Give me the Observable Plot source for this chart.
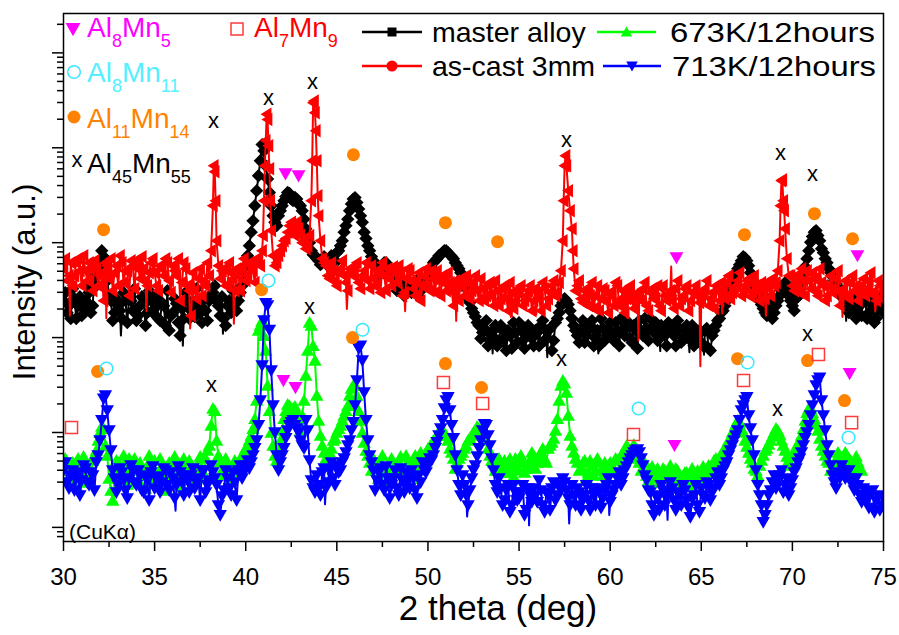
<!DOCTYPE html>
<html>
<head>
<meta charset="utf-8">
<script src="https://cdn.jsdelivr.net/npm/d3@7"></script>
<script src="https://cdn.jsdelivr.net/npm/@observablehq/plot@0.6"></script>
<style>
  html, body { margin: 0; padding: 0; background: #fff; }
  #chart { width: 899px; height: 635px; }
</style>
</head>
<body>
<div id="chart"></div>
<script>
const FONT = "'Liberation Sans', Arial, Helvetica, sans-serif";

// ---- 2-theta sampling of the digitised patterns: main grid 30.0,30.2,... and mid grid 30.1,30.3,... ----
const thetaStart = 30;
const thetaMidStart = 30.1;
const thetaStep = 0.2;

// ---- master alloy (black) ----
const masterAlloy = [
  245,183,159,257,217,170,245,298,217,352,532,713,398,245,183,217,159,245,270,192,151,217,257,183,245,202,159,234,134,119,183,228,105,159,245,192,166,217,144,192,245,298,245,170,159,217,183,223,
  245,352,572,930,1700,3530,7300,9300,4700,2450,
  1640,1920,2450,3060,3300,2770,2880,2450,1770,1190,
  824,730,646,616,679,616,679,785,930,1290,
  1770,2560,2990,2270,1640,1110,824,646,532,483,
  616,532,449,398,352,380,328,362,345,398,
  312,352,449,546,646,730,785,824,748,679,
  572,483,398,257,202,166,134,113,151,93,
  119,82,134,98,119,77,113,144,93,105,
  125,82,113,134,93,119,73,144,183,234,
  245,192,134,105,125,89,119,151,98,82,
  125,105,144,93,119,159,105,134,89,119,
  151,105,125,159,113,93,134,105,144,119,
  82,125,98,134,113,82,105,89,119,77,
  105,134,159,192,245,312,418,532,646,690,
  572,418,312,245,202,170,217,183,245,312,
  380,276,217,257,312,449,679,1010,1290,1190,
  865,679,532,439,370,312,257,217,270,192,
  234,170,245,183,217,159,212,183
];
const masterAlloyMid = [
  298,217,328,159,270,202,352,183,449,616,824,532,276,151,257,
  192,298,144,245,328,170,270,134,312,183,
  276,151,217,312,170,257,144,202,298,159,
  245,328,183,257,151,276,352,217,270,134,
  245,312,192,298,449,730,1290,2450,5070,null,
  6460,3380,1920,1510,2170,2770,3380,2880,3000,2560,
  2170,1400,1000,748,679,587,713,572,730,616,
  824,1050,1510,2170,2880,2650,1920,1290,930,713,
  572,449,532,616,483,418,312,380,276,345,
  298,370,270,328,398,507,616,679,748,824,
  785,713,616,532,439,328,234,183,144,98,
  125,82,105,134,93,119,73,105,144,89,
  119,77,134,98,119,82,151,98,125,93,
  159,217,257,223,159,119,89,151,105,134,
  82,119,159,93,125,105,144,82,119,151,
  98,134,77,119,159,93,125,144,98,119,
  82,134,105,151,89,119,98,134,93,119,
  82,125,73,119,151,183,217,276,362,483,
  587,713,646,483,352,276,223,183,245,159,
  217,276,352,312,245,192,270,380,559,824,
  1160,1340,1050,785,616,483,398,345,276,234,
  183,245,159,217,276,159,245,144,202,270
];
const masterAlloyPeaks = [[40.9, 10800]];
const masterAlloySpikes = [[33.15,105],[36.55,82],[38.75,110],[53.55,68],[54.15,72],[55.35,75],[56.55,62],[59.35,68],[62.75,72],[64.35,70],[65.15,66],[72.95,150]];

// ---- as-cast 3mm (red) ----
const asCast = [
  532,398,616,449,679,352,507,616,312,532,449,245,572,679,483,352,616,507,276,572,646,418,532,352,616,483,312,532,679,398,572,449,245,616,352,170,312,418,276,352,449,
  2450,1050,
  418,532,352,483,312,449,532,398,616,507,679,572,
  2770,19900,1340,
  572,730,930,1110,1510,1340,1640,1190,1050,930,
  2770,23400,1920,679,
  572,418,507,352,532,449,312,483,572,380,449,616,328,418,507,298,449,532,352,483,572,276,418,507,328,398,245,449,352,507,298,398,449,312,380,217,352,418,276,380,312,449,245,328,276,380,217,312,257,352,192,298,245,328,217,276,352,245,298,192,328,257,352,276,380,
  1050,6460,2170,532,
  352,257,312,217,380,276,192,328,245,298,
  217,352,257,183,312,245,276,276,328,217,
  298,257,352,192,276,276,245,328,217,276,
  352,245,298,276,257,328,217,298,352,245,
  312,380,257,328,398,276,352,418,298,352,
  245,312,380,276,352,507,
  4500,1400,449,
  352,449,298,398,507,328,418,276,380,245,352,298,418,217,328,276,380,312,245,352,276,398,298,245,352,312
];
const asCastMid = [
  679,449,352,616,507,730,398,532,646,352,483,616,418,312,572,
  730,380,507,646,328,532,713,398,483,679,
  352,572,449,616,298,507,679,380,532,312,
  483,257,532,398,616,null,null,null,507,352,
  616,418,532,312,679,449,572,380,646,824,
  null,null,null,616,824,1050,1290,1640,1190,1400,
  1000,865,null,null,null,null,616,449,616,398,
  507,646,380,532,449,616,328,507,398,572,
  352,483,616,312,418,559,380,483,298,532,
  398,276,483,352,532,312,418,507,276,380,
  483,312,398,245,352,449,257,380,312,418,
  245,352,276,398,217,328,257,380,202,298,
  352,245,312,192,328,257,380,217,298,398,
  298,null,null,null,null,312,398,234,328,276,
  202,352,257,312,183,276,380,217,312,257,
  352,202,298,245,380,192,328,257,217,352,
  245,312,202,398,257,328,192,298,352,234,
  298,398,257,202,312,380,257,449,298,352,
  483,312,398,270,449,312,380,257,328,418,
  380,null,null,null,449,312,380,532,276,398,
  483,312,532,352,276,449,328,507,298,398,
  257,449,352,298,418,328,483,276,398,257
];
const asCastPeaks = [[38.1,824],[38.25,6460],[38.3,5600],[38.35,2770],[38.5,572],[40.95,1190],[41.05,6460],[41.1,11900],[41.15,22600],[41.25,10500],[41.3,6000],[41.35,2770],[41.5,730],[43.5,1190],[43.65,7300],[43.7,29800],[43.75,31200],[43.85,15100],[43.9,7300],[43.95,3120],[44.1,1050],[57.3,507],[57.45,2770],[57.5,6460],[57.55,8240],[57.7,3530],[57.9,1400],[57.95,824],[69.3,1050],[69.35,2450],[69.45,4600],[69.5,2770],[69.55,2170],[69.7,679]];
const asCastSpikes = [[30.35,170],[32.35,160],[34.55,190],[36.95,125],[39.35,140],[45.55,200],[48.75,190],[51.55,150],[54.55,165],[55.95,175],[60.95,160],[61.55,93],[63.35,560],[64.95,50],[66.15,180],[68.55,170],[72.75,165],[74.55,190]];

// ---- 673K / 12 hours (green), 30.0 .. 73.8 ----
const k673 = [
  3.98,4.83,3.12,4.17,5.32,3.52,4.49,3.27,5.07,6.46,
  10.0,11.0,5.72,2.45,3.98,4.83,3.27,4.17,5.32,2.97,
  3.98,4.83,3.52,4.49,3.12,5.07,3.79,4.38,3.27,4.83,
  3.98,2.97,4.49,5.32,3.52,4.17,3.12,4.83,3.98,5.32,
  7.3,17.9,8.24,4.83,3.52,4.49,3.79,5.07,4.17,5.72,
  6.79,8.24,11.0,21.7,134,105,31.3,10.0,5.72,6.79,
  10.5,17.0,19.2,17.9,16.2,10.5,21.7,73,134,57.3,
  13.4,7.3,5.32,6.16,8.24,10.0,11.9,15.1,19.2,29.1,
  31.3,17.0,10.0,6.46,4.83,5.32,3.98,4.83,3.52,4.49,
  5.32,3.79,4.83,4.17,5.72,3.98,5.07,4.49,6.16,5.07,
  6.79,7.3,8.67,10.0,10.5,9.3,6.79,5.32,4.83,5.72,
  6.79,8.24,9.3,10.5,11.0,10.0,8.24,5.72,4.83,3.98,
  4.49,5.07,3.79,4.49,5.32,3.98,4.83,4.17,5.07,5.72,
  4.83,6.16,5.32,6.79,7.86,10.5,21.7,35.3,26.4,9.3,
  6.16,4.83,4.17,5.07,3.79,4.49,3.98,4.83,3.52,4.17,
  4.83,3.98,5.07,5.72,6.46,6.79,6.16,5.32,4.83,4.17,
  3.52,3.98,3.27,4.17,3.52,3.98,3.27,3.79,4.17,3.52,
  3.12,3.79,2.77,3.44,3.98,3.27,3.79,4.49,3.98,5.32,
  4.83,6.46,7.3,8.67,10.5,13.4,11.0,8.24,6.16,4.83,
  3.98,4.49,5.72,6.79,8.24,10.0,10.5,8.24,6.46,5.07,
  5.72,6.79,8.24,11.0,16.2,17.9,14.0,10.5,7.3,5.72,
  4.83,4.17,5.07,5.72,5.32,5.72,5.07,4.17,4.83,3.98
];
const k673Mid = [
  5.32,3.44,4.83,2.77,3.98,5.59,2.97,4.17,5.72,8.24,null,7.3,3.27,1.92,5.07,
  3.52,5.72,2.83,4.38,5.32,3.12,4.17,2.57,5.72,3.79,
  2.97,5.32,3.61,2.45,4.38,5.59,3.52,2.57,3.98,5.07,
  2.97,4.38,5.59,3.27,6.46,11.9,null,5.72,3.98,5.32,
  3.12,4.38,3.61,5.07,6.16,7.3,9.3,14.0,null,null,
  null,17.0,7.3,5.07,8.24,14.0,19.7,16.2,18.8,13.4,
  15.1,40,null,null,24.5,9.3,6.16,4.83,6.79,8.67,
  11.0,13.4,17.0,24.5,null,24.5,13.4,7.86,5.72,3.98,
  4.83,3.27,5.72,4.17,3.12,4.83,3.61,5.59,3.98,4.83,
  3.27,5.72,4.17,5.32,6.16,7.13,8.24,9.3,11.0,10.0,
  8.24,6.16,4.17,5.32,6.16,7.3,8.67,10.0,11.6,10.5,
  9.10,6.79,5.07,3.98,5.32,3.79,4.38,5.32,3.44,4.83,
  5.72,3.79,4.60,6.16,4.17,5.32,6.79,4.83,7.3,8.67,
  14.0,31.3,null,15.1,7.3,5.32,3.98,4.83,3.27,5.07,
  3.52,5.32,3.98,4.83,3.12,4.38,5.32,3.79,6.16,7.3,
  6.46,7.48,5.72,3.98,4.83,3.12,4.38,3.52,2.97,4.17,
  3.44,4.49,3.12,3.98,2.77,3.79,3.27,4.17,2.57,3.61,
  4.38,3.12,3.98,5.07,4.17,5.72,6.79,8.24,10.0,12.2,
  12.8,10.0,7.13,5.32,4.17,3.52,5.07,6.46,7.48,9.10,
  11.0,9.55,7.3,5.59,4.49,6.46,7.48,9.3,13.4,17.9,
  16.2,12.2,8.67,6.46,5.07,3.98,4.83,6.16,4.83,6.16,
  5.32,4.49,5.59,4.17
];
const k673Peaks = [[32.1,11.6],[38.3,17.0],[40.7,119],[40.9,151],[41.1,73],[43.5,144],[43.7,82],[45.9,31.3],[57.5,33.0]];
const k673Spikes = [[32.75,1.9],[37.15,2.4],[47.55,2.6],[64.55,2.2]];

// ---- 713K / 12 hours (blue) ----
const k713 = [
  3.98,2.97,3.52,2.45,3.79,3.12,4.17,2.77,3.52,4.83,
  8.24,22.7,17.0,6.46,3.27,2.77,3.79,2.45,3.27,3.98,
  2.77,3.52,2.33,3.12,3.79,2.57,3.44,2.97,3.98,2.45,
  3.27,2.77,3.79,2.17,3.12,3.52,2.57,3.27,3.98,2.33,
  3.12,3.79,2.77,1.34,2.45,3.27,2.17,2.97,3.98,3.27,
  4.49,4.17,5.72,8.24,21.7,151,217,45,10.0,3.98,
  5.72,8.67,11.9,13.4,11.0,8.24,6.79,10.5,3.12,2.33,
  2.77,3.79,2.57,3.98,3.27,4.49,3.98,5.32,7.3,10.5,
  19.2,77,57.3,13.4,5.72,3.98,3.12,4.17,2.45,3.27,
  2.77,3.98,2.17,3.12,3.79,2.57,3.27,2.01,2.97,3.98,
  4.49,5.07,6.79,9.3,13.4,21.7,17.0,8.67,3.98,2.17,
  2.77,1.70,3.27,4.49,6.79,10.5,11.9,7.3,3.98,2.33,
  2.57,1.92,2.77,1.70,2.33,2.01,2.77,1.51,2.17,2.57,
  1.84,2.45,1.44,2.17,2.57,1.92,2.77,3.27,2.45,1.70,
  2.17,2.57,1.51,2.17,1.92,2.57,1.70,2.33,2.01,2.77,
  1.84,2.45,3.27,2.77,3.98,4.83,5.72,6.46,6.16,4.49,
  3.12,2.33,1.34,2.01,2.77,1.70,2.33,2.57,1.51,2.17,
  2.77,1.92,1.28,2.17,1.70,2.57,2.01,2.77,2.33,3.27,
  2.77,3.98,4.83,6.46,8.24,10.5,17.0,21.7,15.1,8.24,
  3.98,2.17,1.13,1.70,2.45,3.52,2.97,3.98,2.77,2.17,
  3.12,4.17,5.32,7.3,10.0,15.1,24.5,35.3,21.7,10.5,
  5.72,3.52,2.57,3.27,3.98,3.79,3.27,2.45,2.77,1.84,
  2.17,1.60,2.45,1.92,1.51,2.01
];
const k713Mid = [
  4.83,2.57,3.98,3.27,2.17,4.49,2.97,3.79,2.45,5.72,13.4,null,10.5,3.98,2.33,
  4.17,3.12,2.01,4.49,2.97,3.98,2.45,3.44,1.92,4.38,
  3.27,2.33,4.17,2.77,3.79,2.01,4.38,2.97,3.52,2.33,
  4.17,2.97,1.92,3.98,2.77,4.49,3.27,1.70,2.11,3.98,
  2.57,3.79,1.92,4.49,3.79,5.07,4.83,6.79,11.9,50.8,
  null,null,19.2,5.72,4.83,6.79,10.5,12.8,11.9,10.0,
  7.3,13.4,5.07,2.57,3.52,2.17,4.17,2.97,4.83,2.77,
  3.79,4.83,6.16,8.24,12.8,35.3,null,26.4,8.24,4.83,
  2.45,3.79,2.77,4.38,2.01,3.27,2.57,4.17,2.33,3.12,
  3.98,2.45,3.52,4.83,3.79,5.32,5.72,7.86,11.0,17.9,
  null,11.9,5.72,2.77,3.52,2.17,2.45,3.98,5.59,8.24,
  null,9.3,5.32,2.77,3.27,1.70,2.45,1.44,2.77,1.92,
  2.33,1.34,2.57,1.84,2.17,3.12,1.70,2.33,1.51,2.97,
  2.17,2.45,2.97,2.01,2.77,1.70,2.33,1.92,2.77,1.51,
  2.17,2.57,1.60,2.45,3.27,2.17,2.77,3.79,3.27,4.38,
  5.32,6.16,null,5.32,3.52,2.45,1.70,2.17,1.51,2.45,
  2.01,2.97,1.92,2.33,1.70,2.45,1.60,2.01,2.77,1.44,
  2.17,2.97,1.92,2.57,3.79,3.27,4.38,5.72,7.3,9.3,
  13.4,19.2,null,11.0,5.72,2.77,1.70,1.34,2.17,2.97,
  2.57,3.52,2.33,3.27,2.57,3.79,4.83,6.16,8.67,11.9,
  19.2,31.3,null,15.1,7.3,4.49,2.97,3.79,4.49,3.27,
  3.98,2.77,3.27,2.17,2.57,1.92,2.33,1.44,2.17,1.70
];
const k713Peaks = [[32.3,24.5],[41.1,230],[41.3,120],[46.3,82],[51.1,23.5],[53.1,12.2],[61.5,6.6],[67.5,23.5],[71.5,37.6]];
const k713Spikes = [[36.15,1.5],[44.35,1.75],[52.15,1.3],[55.55,1.05],[57.75,1.1],[59.95,1.35],[63.15,1.2]];

// ---- phase markers (2theta, intensity position) ----
const al45mn55Theta = [38.23, 41.25, 43.67, 57.6, 69.35, 71.1, 38.12, 43.5, 57.33, 69.18, 70.83];
const al45mn55Int   = [19200, 33600, 49500, 12100, 8860, 5320, 32, 212, 60, 17.9, 110];
const al8mn5Theta   = [42.18, 42.9, 63.64, 73.57, 42.07, 42.73, 63.53, 73.14];
const al8mn5Int     = [5320, 5070, 695, 730, 35.3, 29.8, 7.3, 41.8];
const al11mn14Theta = [32.2, 40.87, 45.91, 50.96, 53.82, 67.37, 71.21, 73.3, 31.87, 45.86, 50.96, 52.94, 66.99, 70.83, 72.86];
const al11mn14Int   = [1370, 320, 8440, 1625, 1025, 1215, 2020, 1100, 43.9, 100, 53.2, 29.8, 60, 57.3, 21.7];
const al8mn11Theta  = [32.36, 41.25, 46.41, 61.56, 67.54, 73.08];
const al8mn11Int    = [47.2, 398, 121, 17.9, 54.6, 8.86];
const al7mn9Theta   = [30.44, 50.85, 53.0, 61.28, 67.32, 71.43, 73.25];
const al7mn9Int     = [11.3, 33.6, 20.2, 9.53, 35.3, 66.2, 12.7];

// ---- axis ticks ----
const xMajor = [30, 35, 40, 45, 50, 55, 60, 65, 70, 75];
const xMinor = [32.5, 37.5, 42.5, 47.5, 52.5, 57.5, 62.5, 67.5, 72.5];
const yMajor = [1, 10, 100, 1000, 10000, 100000];
const yMinor = [0.8,0.9,2,3,4,5,6,7,8,9,20,30,40,50,60,70,80,90,200,300,400,500,600,700,800,900,
  2000,3000,4000,5000,6000,7000,8000,9000,20000,30000,40000,50000,60000,70000,80000,90000,200000];

// ---- series labels / colours ----
const seriesNames = ["master alloy", "as-cast 3mm", "673K/12hours", "713K/12hours"];
const seriesColors = ["#000000", "#ff0000", "#00ff00", "#0000ff"];

// ---- build tables ----
const problems = [];
function buildSeries(name, grid, mid, peaks, spikes, expectGrid, expectMid) {
  if (grid.length !== expectGrid) problems.push(`${name} grid ${grid.length}/${expectGrid}`);
  if (mid.length !== expectMid) problems.push(`${name} mid ${mid.length}/${expectMid}`);
  const pts = grid.map((v, i) => ({theta: +(thetaStart + thetaStep * i).toFixed(2), I: v, mark: true}));
  mid.forEach((v, i) => { if (v != null) pts.push({theta: +(thetaMidStart + thetaStep * i).toFixed(2), I: v, mark: true}); });
  peaks.forEach(([t, v]) => pts.push({theta: t, I: v, mark: true}));
  spikes.forEach(([t, v]) => pts.push({theta: t, I: v, mark: false}));
  return pts.sort((a, b) => a.theta - b.theta);
}
const zip = (ts, vs) => ts.map((t, i) => ({theta: t, I: vs[i]}));

const sBlack = buildSeries("black", masterAlloy, masterAlloyMid, masterAlloyPeaks, masterAlloySpikes, 226, 225);
const sRed = buildSeries("red", asCast, asCastMid, asCastPeaks, asCastSpikes, 226, 225);
const sGreen = buildSeries("green", k673, k673Mid, k673Peaks, k673Spikes, 220, 219);
const sBlue = buildSeries("blue", k713, k713Mid, k713Peaks, k713Spikes, 226, 225);

// ---- custom marker shapes ----
const triUp = {draw(c, s) { const r = Math.sqrt(s / Math.PI); c.moveTo(0, -1.15 * r); c.lineTo(1.2 * r, 0.95 * r); c.lineTo(-1.2 * r, 0.95 * r); c.closePath(); }};
const triDown = {draw(c, s) { const r = Math.sqrt(s / Math.PI); c.moveTo(0, 1.15 * r); c.lineTo(1.2 * r, -0.95 * r); c.lineTo(-1.2 * r, -0.95 * r); c.closePath(); }};
const triLeft = {draw(c, s) { const r = Math.sqrt(s / Math.PI); c.moveTo(-1.1 * r, 0); c.lineTo(0.85 * r, -1.2 * r); c.lineTo(0.85 * r, 1.2 * r); c.closePath(); }};

function seriesMarks(data, color, symbol, r) {
  return [
    Plot.line(data, {x: "theta", y: "I", stroke: color, strokeWidth: 2, clip: true}),
    Plot.dot(data.filter(d => d.mark), {x: "theta", y: "I", symbol, r, fill: color, stroke: "none", clip: true})
  ];
}

const chart = Plot.plot({
  width: 899,
  height: 635,
  marginLeft: 63,
  marginRight: 16,
  marginTop: 13,
  marginBottom: 94,
  style: {fontFamily: FONT, fontSize: "24px", background: "#fff", color: "#000", overflow: "visible"},
  x: {domain: [30, 75]},
  y: {type: "log", domain: [0.71, 2.6e5]},
  marks: [
    Plot.axisX({ticks: xMajor, tickSize: 10, tickPadding: 16, tickFormat: d => String(d), fontSize: 24, label: null, strokeWidth: 1.5}),
    Plot.axisX({ticks: xMinor, tickSize: 6, tickFormat: () => "", label: null, strokeWidth: 1.5}),
    Plot.axisY({ticks: yMajor, tickSize: 11, tickFormat: () => "", label: null, strokeWidth: 1.5}),
    Plot.axisY({ticks: yMinor, tickSize: 6, tickFormat: () => "", label: null, strokeWidth: 1.5}),
    ...seriesMarks(sBlack, seriesColors[0], "diamond2", 6),
    ...seriesMarks(sRed, seriesColors[1], triLeft, 5.6),
    ...seriesMarks(sGreen, seriesColors[2], triUp, 5.6),
    ...seriesMarks(sBlue, seriesColors[3], triDown, 5.6),
    Plot.dot(zip(al11mn14Theta, al11mn14Int), {x: "theta", y: "I", r: 6.5, fill: "#ff8200", stroke: "none"}),
    Plot.dot(zip(al8mn11Theta, al8mn11Int), {x: "theta", y: "I", r: 6.3, fill: "none", stroke: "#35e8ff", strokeWidth: 1.5}),
    Plot.dot(zip(al7mn9Theta, al7mn9Int), {x: "theta", y: "I", symbol: "square", r: 6.8, fill: "none", stroke: "#ff3a3a", strokeWidth: 1.5}),
    Plot.dot(zip(al8mn5Theta, al8mn5Int), {x: "theta", y: "I", symbol: triDown, r: 5.8, fill: "#ff00ff", stroke: "none"}),
    Plot.text(zip(al45mn55Theta, al45mn55Int), {x: "theta", y: "I", text: () => "x", fontSize: 22, fill: "#000"}),
    Plot.frame({stroke: "#000", strokeWidth: 1.5})
  ]
});

document.getElementById("chart").appendChild(chart);

// ---- titles, legends, annotation text (drawn on top of the plot SVG) ----
const svg = d3.select(chart);
const g = svg.append("g").attr("font-family", FONT).attr("text-anchor", "start");

g.append("text").attr("x", 498).attr("y", 620).attr("text-anchor", "middle")
  .attr("font-size", 35).attr("fill", "#000").text("2 theta (deg)");
g.append("text").attr("transform", "translate(35,282) rotate(-90)").attr("text-anchor", "middle")
  .attr("font-size", 31).attr("fill", "#000").text("Intensity (a.u.)");
g.append("text").attr("x", 69).attr("y", 539).attr("font-size", 21).attr("fill", "#000").text("(CuKα)");

// series legend
const legendRows = [
  {x1: 362, x2: 422, y: 32, tx: 432, i: 0, sym: "square", len: null},
  {x1: 362, x2: 422, y: 66, tx: 432, i: 1, sym: "circle", len: null},
  {x1: 597, x2: 656, y: 32, tx: 670, i: 2, sym: "up", len: 205},
  {x1: 603, x2: 661, y: 66, tx: 672, i: 3, sym: "down", len: 204}
];
legendRows.forEach(r => {
  const col = seriesColors[r.i];
  g.append("line").attr("x1", r.x1).attr("x2", r.x2).attr("y1", r.y).attr("y2", r.y)
    .attr("stroke", col).attr("stroke-width", 2.5);
  const cx = (r.x1 + r.x2) / 2;
  if (r.sym === "square") g.append("rect").attr("x", cx - 4.5).attr("y", r.y - 4.5).attr("width", 9).attr("height", 9).attr("fill", col);
  else if (r.sym === "circle") g.append("circle").attr("cx", cx).attr("cy", r.y).attr("r", 5.5).attr("fill", col);
  else g.append("path").attr("transform", `translate(${cx},${r.y})`)
    .attr("d", d3.symbol(r.sym === "up" ? triUp : triDown, Math.PI * 4.8 * 4.8)()).attr("fill", col);
  const t = g.append("text").attr("x", r.tx).attr("y", r.y + 10).attr("font-size", 28.5).attr("fill", "#000").text(seriesNames[r.i]);
  if (r.len) t.attr("textLength", r.len).attr("lengthAdjust", "spacingAndGlyphs");
});

// phase legend with subscripts
function phaseLabel(x, y, parts, color) {
  const t = g.append("text").attr("x", x).attr("y", y).attr("font-size", 28).attr("fill", color);
  let sub = false;
  parts.forEach(p => {
    const isSub = /^\d+$/.test(p);
    const ts = t.append("tspan").text(p);
    if (isSub && !sub) { ts.attr("dy", 10).attr("font-size", 18); sub = true; }
    else if (isSub) { ts.attr("font-size", 18); }
    else if (sub) { ts.attr("dy", -10); sub = false; }
  });
}
g.append("path").attr("transform", "translate(73,29)")
  .attr("d", d3.symbol(triDown, Math.PI * 6.2 * 6.2)()).attr("fill", "#ff00ff");
phaseLabel(87, 37, ["Al", "8", "Mn", "5"], "#ff00ff");
g.append("rect").attr("x", 231).attr("y", 23).attr("width", 12).attr("height", 12)
  .attr("fill", "none").attr("stroke", "#ff3a3a").attr("stroke-width", 1.5);
phaseLabel(254, 37, ["Al", "7", "Mn", "9"], "#ff0000");
g.append("circle").attr("cx", 74).attr("cy", 72).attr("r", 6.3).attr("fill", "none")
  .attr("stroke", "#35e8ff").attr("stroke-width", 1.5);
phaseLabel(87, 82, ["Al", "8", "Mn", "11"], "#55f0ff");
g.append("circle").attr("cx", 74).attr("cy", 117).attr("r", 6.5).attr("fill", "#ff8200");
phaseLabel(87, 128, ["Al", "11", "Mn", "14"], "#ff8200");
g.append("text").attr("x", 77).attr("y", 167).attr("text-anchor", "middle").attr("font-size", 22).attr("fill", "#000").text("x");
phaseLabel(87, 173, ["Al", "45", "Mn", "55"], "#000");

if (problems.length) g.append("text").attr("x", 100).attr("y", 300).attr("font-size", 16).attr("fill", "purple").text(problems.join("; "));
</script>
</body>
</html>
